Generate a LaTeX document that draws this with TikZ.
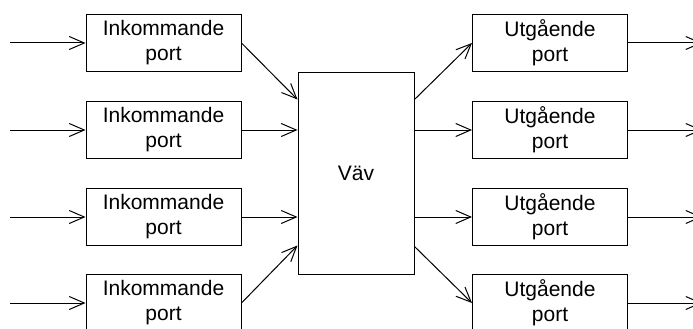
\documentclass[tikz,border=0pt]{standalone}
\usepackage{fontspec}
\setmainfont{Liberation Sans}
\usetikzlibrary{arrows.meta}
\begin{document}
\begin{tikzpicture}[x=1pt,y=-1pt,
  port/.style={draw,line width=1pt,minimum width=155pt,minimum height=57pt,
    align=center,font=\fontsize{21}{25}\selectfont,inner sep=0pt},
  flow/.style={line width=1pt,-{Straight Barb[length=15pt,width=13pt,line width=1pt]}},
  every node/.style={anchor=center}]
\useasboundingbox (0,0) rectangle (693,329);
\clip (0,0) rectangle (693,329);
\fill[white] (0,0) rectangle (693,329);
% incoming and outgoing ports, one row each
\foreach \i/\y in {1/43,2/130,3/217,4/303}{
  \node[port] (in\i) at (163.5,\y) {Inkommande\\port};
  \coordinate (src\i) at (10,\y);
  \node[port] (out\i) at (550,\y) {Utgående\\port};
  \coordinate (dst\i) at (702,\y);
}
% switch fabric
\node[draw,line width=1pt,minimum width=116pt,minimum height=202pt,inner sep=0pt,
  font=\fontsize{21}{25}\selectfont] (vav) at (356,173) {Väv};
\foreach \i in {1,...,4}{
  \draw[flow] (src\i) -- (in\i.west);
  \draw[flow] (out\i.east) -- (dst\i);
}
\draw[flow] (in1.east) -- ([yshift=-28pt]vav.north west);
\draw[flow] (in2.east) -- (vav.west |- in2.east);
\draw[flow] (in3.east) -- (vav.west |- in3.east);
\draw[flow] (in4.east) -- ([yshift=29pt]vav.south west);
\draw[flow] ([yshift=-28pt]vav.north east) -- (out1.west);
\draw[flow] (vav.east |- out2.west) -- (out2.west);
\draw[flow] (vav.east |- out3.west) -- (out3.west);
\draw[flow] ([yshift=28pt]vav.south east) -- (out4.west);
\end{tikzpicture}
\end{document}
